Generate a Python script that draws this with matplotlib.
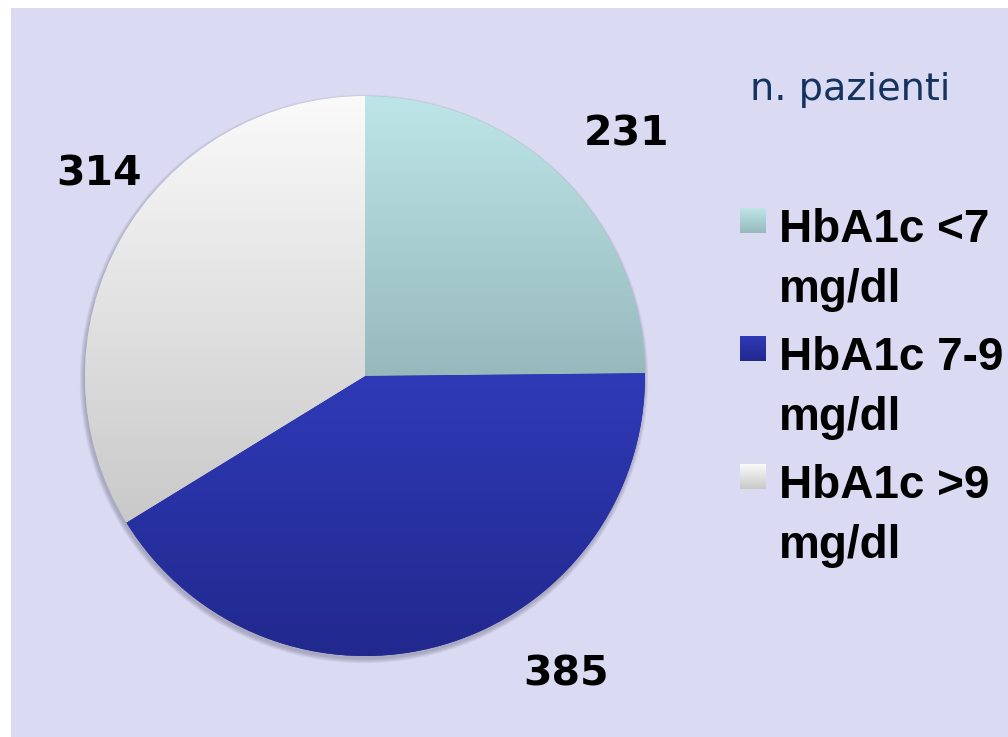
import numpy as np
import matplotlib
matplotlib.use('Agg')
import matplotlib.pyplot as plt
from matplotlib.patches import Rectangle, Circle
from matplotlib.colors import LinearSegmentedColormap

# ---- data ----
categories = ['HbA1c <7\nmg/dl', 'HbA1c 7-9\nmg/dl', 'HbA1c >9\nmg/dl']
values = [231, 385, 314]
value_labels = ['231', '385', '314']
legend_title = 'n. pazienti'
top_colors = ['#BDE5E7', '#2F3AB7', '#FAFAFA']
bottom_colors = ['#96B9BC', '#21288D', '#C9C9C9']

W, H = 1008, 737
fig = plt.figure(figsize=(W / 100, H / 100), dpi=100, facecolor='white')
ax = fig.add_axes([0, 0, 1, 1])

BG = '#DADAF2'
ax.add_patch(Rectangle((11, 0), W - 11, H - 8, facecolor=BG, edgecolor='none', zorder=0))

cx, cy, R = 365, 361, 280

# soft shadow (offset downward)
for k in range(6):
    ax.add_patch(Circle((cx - 1, cy - 3), R + 0.3 + k * 0.8, facecolor='#404060',
                        alpha=0.06, edgecolor='none', zorder=1))

wedges, _ = ax.pie(values, startangle=90, counterclock=False, center=(cx, cy), radius=R,
                   frame=True, colors=bottom_colors,
                   wedgeprops=dict(edgecolor='none', linewidth=0, zorder=2))

grad = np.linspace(0, 1, 256).reshape(-1, 1)
for w, ct, cb in zip(wedges, top_colors, bottom_colors):
    verts = w.get_path().vertices
    x0, x1 = verts[:, 0].min(), verts[:, 0].max()
    y0, y1 = verts[:, 1].min(), verts[:, 1].max()
    cmap = LinearSegmentedColormap.from_list('g', [cb, ct])
    im = ax.imshow(grad, cmap=cmap, extent=(x0, x1, y0, y1), origin='lower',
                   aspect='auto', zorder=3, interpolation='bilinear')
    im.set_clip_path(w)

NUM_FONT = dict(family='DejaVu Sans', weight='bold')
label_pos = [(627, 134), (566, 674), (99, 174)]
for txt, (px, py) in zip(value_labels, label_pos):
    ax.text(px, H - py, txt, ha='center', va='center', fontsize=29.5, color='black',
            zorder=5, **NUM_FONT)

# legend title
ax.text(850, H - 90, legend_title, ha='center', va='center', fontsize=27.5,
        color='#14335F', family='DejaVu Sans', zorder=5)

# legend entries
LEG_FONT = dict(family='Liberation Sans', weight='bold')
sq_top = 208
for i, (lab, ct, cb) in enumerate(zip(categories, top_colors, bottom_colors)):
    top = sq_top + i * 128
    cmap = LinearSegmentedColormap.from_list('g', [cb, ct])
    ax.imshow(grad, cmap=cmap, extent=(740, 766, H - top - 25, H - top), origin='lower',
              aspect='auto', zorder=4, interpolation='bilinear')
    for j, line in enumerate(lab.split('\n')):
        ax.text(779, H - (top + 34 + j * 60), line, ha='left', va='baseline',
                fontsize=33, color='black', zorder=5, **LEG_FONT)

ax.set_xlim(0, W)
ax.set_ylim(0, H)
ax.set_aspect('auto')
ax.axis('off')
fig.savefig('out.png', dpi=100, facecolor='white')
